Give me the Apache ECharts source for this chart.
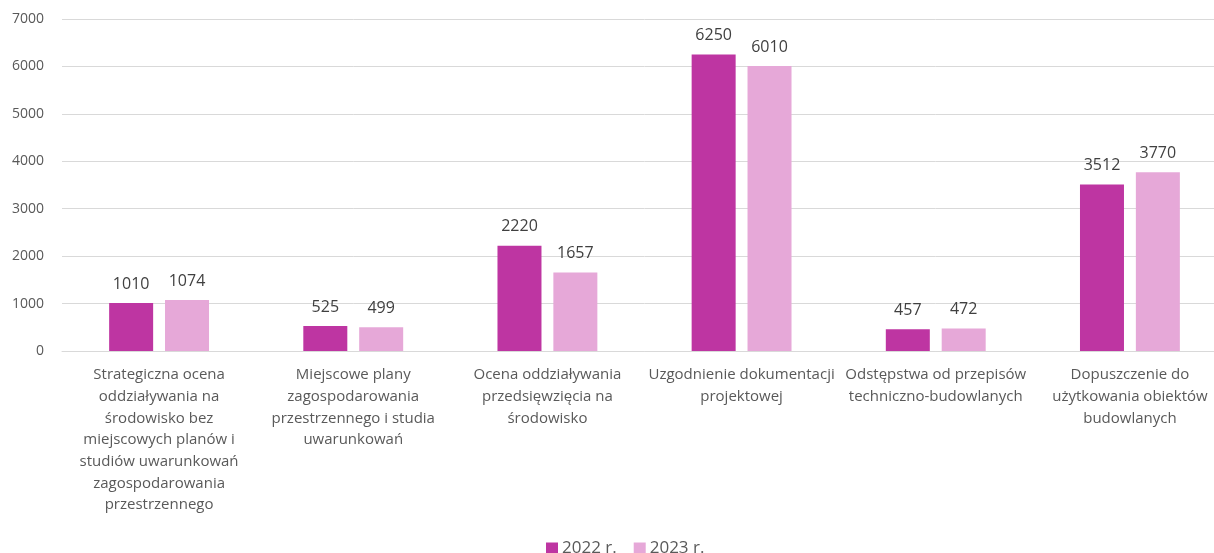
<!DOCTYPE html>
<html>
<head>
<meta charset="utf-8">
<script src="https://cdn.jsdelivr.net/npm/echarts@6/dist/echarts.min.js"></script>
<style>
  html, body { margin: 0; padding: 0; background: #fff; overflow: hidden; }
  /* the plot area continues a little past the visible right edge */
  #chart { width: 1227px; height: 553px; }
</style>
</head>
<body>
<div id="chart"></div>
<script>
const categories = [
  "Strategiczna ocena\noddziaływania na\nśrodowisko bez\nmiejscowych planów i\nstudiów uwarunkowań\nzagospodarowania\nprzestrzennego",
  "Miejscowe plany\nzagospodarowania\nprzestrzennego i studia\nuwarunkowań",
  "Ocena oddziaływania\nprzedsięwzięcia na\nśrodowisko",
  "Uzgodnienie dokumentacji\nprojektowej",
  "Odstępstwa od przepisów\ntechniczno-budowlanych",
  "Dopuszczenie do\nużytkowania obiektów\nbudowlanych"
];
const values2022 = [1010, 525, 2220, 6250, 457, 3512];
const values2023 = [1074, 499, 1657, 6010, 472, 3770];
const seriesNames = ["2022 r.", "2023 r."];

const FONT = "'Open Sans', 'Noto Sans', sans-serif";
const TEXT = "#595959";

const chart = echarts.init(document.getElementById('chart'), null, { renderer: 'canvas' });

function barSeries(name, data, color) {
  return {
    name: name,
    type: 'bar',
    data: data,
    barWidth: 44,
    barGap: '27%',
    itemStyle: { color: color },
    label: {
      show: true,
      position: 'top',
      distance: 11,
      color: "#404040",
      fontFamily: FONT,
      fontSize: 16
    }
  };
}

chart.setOption({
  animation: false,
  textStyle: { fontFamily: FONT },
  grid: { left: 62, right: 0, top: 19, bottom: 202, containLabel: false },
  legend: {
    top: 535,
    left: 541,
    itemWidth: 12,
    itemHeight: 12,
    itemGap: 17,
    icon: 'rect',
    textStyle: { color: TEXT, fontSize: 17, fontFamily: FONT, padding: [0, 0, 0, -1] }
  },
  xAxis: {
    type: 'category',
    data: categories,
    axisLine: { show: true, lineStyle: { color: '#d9d9d9', width: 1 } },
    axisTick: { show: false },
    axisLabel: {
      interval: 0,
      color: TEXT,
      fontSize: 15,
      lineHeight: 21.7,
      margin: 13,
      fontFamily: FONT,
      align: 'center'
    }
  },
  yAxis: {
    type: 'value',
    min: 0,
    max: 7000,
    interval: 1000,
    axisLine: { show: false },
    axisTick: { show: false },
    splitLine: { lineStyle: { color: '#d9d9d9', width: 1 } },
    axisLabel: {
      color: TEXT,
      fontSize: 14,
      margin: 18,
      fontFamily: FONT,
      formatter: function (v) { return String(v); }
    }
  },
  series: [
    barSeries(seriesNames[0], values2022, '#BE35A2'),
    barSeries(seriesNames[1], values2023, '#E6A8D8')
  ]
});
</script>
</body>
</html>
